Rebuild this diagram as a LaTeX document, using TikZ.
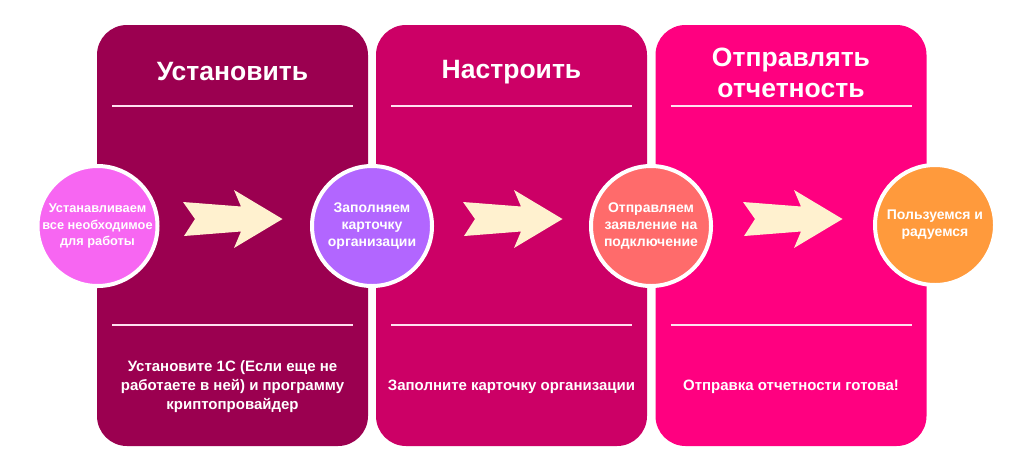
\documentclass[tikz,border=0pt]{standalone}
\usepackage{fontspec}
\setmainfont{Liberation Sans}
\definecolor{pone}{HTML}{9B0050}
\definecolor{ptwo}{HTML}{CC0066}
\definecolor{pthree}{HTML}{FF0080}
\definecolor{cone}{HTML}{F766F2}
\definecolor{ctwo}{HTML}{B266FF}
\definecolor{cthree}{HTML}{FF6B6B}
\definecolor{cfour}{HTML}{FF9A3C}
\definecolor{cream}{HTML}{FFF1CF}
\definecolor{rule}{HTML}{FFE0F0}
\tikzset{
  panel/.style={rounded corners=30pt, minimum width=271pt, minimum height=421pt, inner sep=0pt, outer sep=0pt},
  stepcircle/.style={circle, draw=white, line width=4pt, minimum size=120pt, inner sep=0pt, align=center,
    text=white, font=\bfseries\fontsize{14}{17}\selectfont},
  title/.style={text=white, align=center, font=\bfseries\fontsize{26.5}{31}\selectfont},
  bottomtext/.style={text=white, align=center, font=\bfseries\fontsize{15}{19}\selectfont},
  sep/.style={draw=rule, line width=2pt},
  chevron/.pic={\fill[cream] (0,-17) -- (12,0) -- (1,17) -- (58,12.5) -- (51,29) -- (99.5,0) -- (51,-29) -- (58,-12.5) -- cycle;}
}
\begin{document}
\begin{tikzpicture}[x=1pt,y=-1pt]
\useasboundingbox[fill=white] (0,0) rectangle (1024,469);
% panels
\node[panel, fill=pone] (p1) at (232.5,235.5) {};
\node[panel, fill=ptwo] (p2) at (511.5,235.5) {};
\node[panel, fill=pthree] (p3) at (791,235.5) {};
% titles
\node[title] (t1) at (232.5,72) {Установить};
\node[title] (t2) at (511.5,72) {Настроить};
\node[title] (t3) at (791,73) {Отправлять\\отчетность};
% separators
\foreach \p in {p1,p2,p3}{
  \draw[sep] ([xshift=15pt]\p.west |- 0,106) -- ([xshift=-15pt]\p.east |- 0,106);
  \draw[sep] ([xshift=15pt]\p.west |- 0,325) -- ([xshift=-15pt]\p.east |- 0,325);
}
% bottom texts
\node[bottomtext] (b1) at (232.5,387) {Установите 1С (Если еще не\\работаете в ней) и программу\\криптопровайдер};
\node[bottomtext] (b2) at (511.5,387) {Заполните карточку организации};
\node[bottomtext] (b3) at (791,387) {Отправка отчетности готова!};
% arrows
\pic at (183,219) {chevron};
\pic at (463,219) {chevron};
\pic at (743,219) {chevron};
% circles
\node[stepcircle, fill=cone, font=\bfseries\fontsize{12.8}{16.5}\selectfont] (s1) at (97.5,226) {Устанавливаем\\все необходимое\\для работы};
\node[stepcircle, fill=ctwo] (s2) at (372,226) {Заполняем\\карточку\\организации};
\node[stepcircle, fill=cthree] (s3) at (651,226) {Отправляем\\заявление на\\подключение};
\node[stepcircle, fill=cfour] (s4) at (935,225) {Пользуемся и\\радуемся};
\end{tikzpicture}
\end{document}
